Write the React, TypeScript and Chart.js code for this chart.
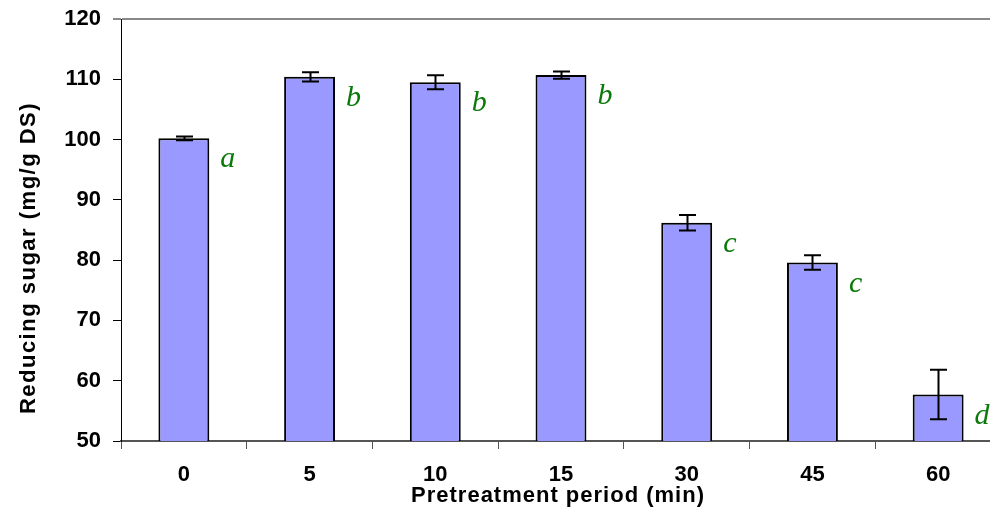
import React, { useEffect, useRef } from "react";
import { Chart, registerables } from "chart.js";

Chart.register(...registerables);

const categories = ["0", "5", "10", "15", "30", "45", "60"];
const sugarValues = [100.2, 110.4, 109.5, 110.7, 86.2, 79.6, 57.7];
const errorValues = [0.3, 0.75, 1.15, 0.6, 1.3, 1.2, 4.1];
const groupLetters = ["a", "b", "b", "b", "c", "c", "d"];
const yMin = 50;
const yMax = 120;
const yStep = 10;
const xTitle = "Pretreatment period (min)";
const yTitle = "Reducing sugar (mg/g DS)";

const SANS = "'Liberation Sans', Arial, sans-serif";

const decorPlugin = {
  id: "decor",
  afterDatasetsDraw(chart: any) {
    const ctx = chart.ctx;
    const meta = chart.getDatasetMeta(0);
    const ys = chart.scales.y;
    ctx.save();
    meta.data.forEach((bar: any, i: number) => {
      const v = sugarValues[i];
      const e = errorValues[i];
      const top = ys.getPixelForValue(v + e);
      const bot = ys.getPixelForValue(v - e);
      const cx = Math.round(bar.x) + 0.5;
      ctx.strokeStyle = "#000";
      ctx.lineWidth = 2;
      ctx.beginPath();
      ctx.moveTo(cx, top);
      ctx.lineTo(cx, bot);
      ctx.moveTo(cx - 8.5, top);
      ctx.lineTo(cx + 8.5, top);
      ctx.moveTo(cx - 8.5, bot);
      ctx.lineTo(cx + 8.5, bot);
      ctx.stroke();
      // significance letters
      ctx.fillStyle = "#0a7a0a";
      ctx.font = "italic 30px 'Liberation Serif', 'Times New Roman', serif";
      ctx.textAlign = "left";
      ctx.textBaseline = "alphabetic";
      ctx.fillText(groupLetters[i], bar.x + bar.width / 2 + 11, bar.y + 29);
    });
    ctx.restore();
  },
  afterDraw(chart: any) {
    const ctx = chart.ctx;
    const area = chart.chartArea;
    ctx.save();
    ctx.fillStyle = "#000";
    ctx.font = `bold 22px ${SANS}`;
    (ctx as any).letterSpacing = "1px";
    ctx.textAlign = "center";
    ctx.textBaseline = "alphabetic";
    ctx.fillText(xTitle, (area.left + area.right) / 2 - 3, 502);
    (ctx as any).letterSpacing = "1.5px";
    ctx.translate(35, 258);
    ctx.rotate(-Math.PI / 2);
    ctx.fillText(yTitle, 0, 0);
    ctx.restore();
  },
};

export default function App() {
  const canvasRef = useRef<HTMLCanvasElement | null>(null);

  useEffect(() => {
    const canvas = canvasRef.current;
    if (!canvas) return;
    const chart = new Chart(canvas, {
      type: "bar",
      data: {
        labels: categories,
        datasets: [
          {
            data: sugarValues,
            backgroundColor: "#9999ff",
            borderColor: "#000000",
            borderWidth: 2,
            barPercentage: 0.405,
            categoryPercentage: 1,
          },
        ],
      },
      options: {
        animation: false,
        responsive: false,
        devicePixelRatio: 1,
        layout: { padding: { left: 0, top: 19, right: 9, bottom: 0 } },
        plugins: {
          legend: { display: false },
          tooltip: { enabled: false },
          title: { display: false },
        },
        scales: {
          x: {
            type: "category",
            offset: true,
            afterFit(scale: any) {
              scale.height = 78;
              scale.paddingLeft = 0;
              scale.paddingRight = 0;
            },
            grid: {
              display: true,
              drawOnChartArea: false,
              offset: true,
              tickLength: 8,
              tickColor: "#555555",
              lineWidth: 1,
            },
            border: { display: true, color: "#555555", width: 2 },
            ticks: {
              color: "#000",
              padding: 13,
              font: { family: SANS, size: 22, weight: "bold" },
              maxRotation: 0,
            },
          },
          y: {
            min: yMin,
            max: yMax,
            afterFit(scale: any) {
              scale.width = 121;
              scale.paddingTop = 0;
              scale.paddingBottom = 0;
            },
            grid: {
              display: true,
              drawOnChartArea: true,
              tickLength: 8,
              color: (c: any) =>
                c.tick && c.tick.value === yMax ? "#888888" : "rgba(0,0,0,0)",
              lineWidth: (c: any) => (c.tick && c.tick.value === yMax ? 2 : 1),
              tickColor: (c: any) =>
                c.tick && c.tick.value === yMax ? "#888888" : "#000000",
            },
            border: { display: true, color: "#000000", width: 1 },
            ticks: {
              stepSize: yStep,
              color: "#000",
              padding: 12,
              font: { family: SANS, size: 22, weight: "bold" },
            },
          },
        },
      },
      plugins: [decorPlugin],
    } as any);
    return () => chart.destroy();
  }, []);

  return (
    <div
      style={{
        position: "fixed",
        left: 0,
        top: 0,
        width: 990,
        height: 519,
        overflow: "hidden",
        background: "#fff",
      }}
    >
      <canvas ref={canvasRef} width={1010} height={519} style={{ display: "block" }} />
    </div>
  );
}
